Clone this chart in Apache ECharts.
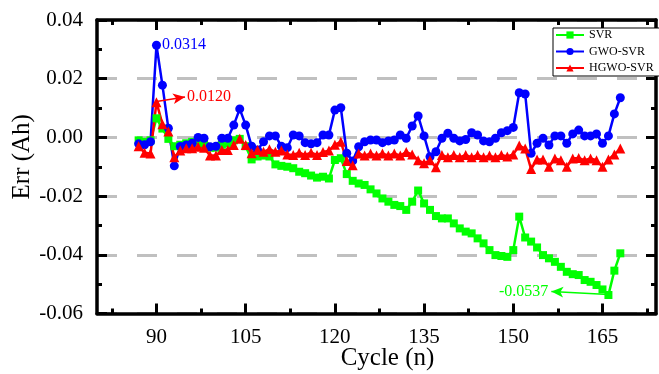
<!DOCTYPE html>
<html><head><meta charset="utf-8">
<script src="https://cdn.jsdelivr.net/npm/echarts@6/dist/echarts.min.js"></script>
<style>html,body{margin:0;padding:0;background:#fff}#c{width:659px;height:374px}</style>
</head><body><div id="c"></div>
<script>
const cycles = [87,88,89,90,91,92,93,94,95,96,97,98,99,100,101,102,103,104,105,106,107,108,109,110,111,112,113,114,115,116,117,118,119,120,121,122,123,124,125,126,127,128,129,130,131,132,133,134,135,136,137,138,139,140,141,142,143,144,145,146,147,148,149,150,151,152,153,154,155,156,157,158,159,160,161,162,163,164,165,166,167,168];
const svr = [-0.0010,-0.0015,-0.0010,0.0065,0.0030,-0.0005,-0.0030,-0.0025,-0.0020,-0.0015,
 -0.0015,-0.0020,-0.0035,-0.0035,-0.0025,-0.0020,-0.0010,-0.0005,-0.0030,-0.0075,
 -0.0065,-0.0062,-0.0065,-0.0092,-0.0097,-0.0100,-0.0105,-0.0117,-0.0122,-0.0130,
 -0.0137,-0.0134,-0.0140,-0.0077,-0.0071,-0.0125,-0.0148,-0.0157,-0.0162,-0.0177,
 -0.0191,-0.0208,-0.0219,-0.0230,-0.0234,-0.0247,-0.0219,-0.0181,-0.0225,-0.0247,
 -0.0268,-0.0276,-0.0276,-0.0293,-0.0310,-0.0321,-0.0327,-0.0344,-0.0361,-0.0384,
 -0.0401,-0.0404,-0.0407,-0.0384,-0.0270,-0.0341,-0.0355,-0.0375,-0.0401,-0.0412,
 -0.0424,-0.0441,-0.0458,-0.0466,-0.0469,-0.0486,-0.0492,-0.0503,-0.0518,-0.0537,
 -0.0454,-0.0395];
const gwoSvr = [-0.0022,-0.0025,-0.0015,0.0314,0.0178,0.0031,-0.0097,-0.0031,-0.0026,-0.0020,
 0.0000,-0.0003,-0.0032,-0.0030,-0.0003,-0.0003,0.0042,0.0097,0.0042,-0.0030,
 -0.0043,-0.0015,0.0005,0.0005,-0.0030,-0.0035,0.0008,0.0005,-0.0018,-0.0022,
 -0.0018,0.0008,0.0008,0.0093,0.0101,-0.0054,-0.0080,-0.0032,-0.0015,-0.0009,
 -0.0009,-0.0018,-0.0012,-0.0009,0.0008,-0.0003,0.0039,0.0073,0.0005,-0.0066,
 -0.0049,-0.0003,0.0014,-0.0003,-0.0012,-0.0007,0.0016,0.0008,-0.0012,-0.0015,
 -0.0003,0.0016,0.0023,0.0034,0.0152,0.0148,-0.0054,-0.0020,-0.0003,-0.0026,
 0.0005,0.0005,-0.0020,0.0012,0.0025,0.0005,0.0005,0.0012,-0.0020,0.0005,
 0.0080,0.0135];
const hgwoSvr = [-0.0030,-0.0052,-0.0055,0.0120,0.0045,0.0020,-0.0068,-0.0045,-0.0037,-0.0037,
 -0.0032,-0.0035,-0.0062,-0.0062,-0.0043,-0.0043,-0.0026,-0.0005,-0.0026,-0.0054,
 -0.0043,-0.0049,-0.0040,-0.0049,-0.0045,-0.0058,-0.0060,-0.0052,-0.0060,-0.0052,
 -0.0060,-0.0050,-0.0045,-0.0025,-0.0015,-0.0080,-0.0095,-0.0055,-0.0062,-0.0055,
 -0.0062,-0.0055,-0.0062,-0.0055,-0.0062,-0.0050,-0.0058,-0.0078,-0.0088,-0.0078,
 -0.0102,-0.0060,-0.0068,-0.0060,-0.0068,-0.0060,-0.0068,-0.0060,-0.0068,-0.0062,
 -0.0068,-0.0060,-0.0065,-0.0058,-0.0028,-0.0038,-0.0108,-0.0075,-0.0075,-0.0100,
 -0.0072,-0.0078,-0.0100,-0.0072,-0.0070,-0.0078,-0.0072,-0.0078,-0.0100,-0.0075,
 -0.0058,-0.0038];
const xTickLabels = [90,105,120,135,150,165];
const xMinorTicks = [82.5,97.5,112.5,127.5,142.5,157.5,172.5];
const seriesNames = ['SVR','GWO-SVR','HGWO-SVR'];

const FONT = "'Liberation Serif','Times New Roman',serif";
const chart = echarts.init(document.getElementById('c'), null, {renderer:'canvas'});

function pairs(vals){ return cycles.map((c,i)=>[c, vals[i]]); }
const gwoData = pairs(gwoSvr).map(p => p[0] === 90 ? {value:p, label:{show:true, position:'right', distance:1, formatter:'0.0314', color:'#0000ff', fontSize:16, fontFamily:FONT}} : p);

const axisLineStyle = {color:'#000', width:3.5};
function xAx(pos, major){
  return {
    type:'value', min:80, max:174, position:pos,
    axisLine:{show:major, onZero:false, lineStyle:axisLineStyle},
    axisTick:{show:true, inside:true, length: major?10:5, customValues: major?xTickLabels:xMinorTicks, lineStyle:{color:'#000', width:3}},
    axisLabel:{show: major && pos==='bottom', customValues:xTickLabels, fontSize:21, color:'#000', margin:13, fontFamily:FONT},
    splitLine:{show:false},
    name: (major && pos==='bottom') ? 'Cycle (n)' : '',
    nameLocation:'middle', nameGap:32, nameMoveOverlap:false,
    nameTextStyle:{fontSize:25, color:'#000', fontFamily:FONT, padding:[0,0,0,22]}
  };
}
function yAx(pos){
  const left = pos==='left';
  return {
    type:'value', min:-0.06, max:0.04, interval:0.02, position:pos,
    axisLine:{show:true, onZero:false, lineStyle:axisLineStyle},
    axisTick:{show:true, inside:true, length:10, lineStyle:{color:'#000', width:3}},
    minorTick:{show:true, splitNumber:2, length:5, lineStyle:{color:'#000', width:3}},
    axisLabel:{show:left, fontSize:21, color:'#000', margin:14, fontFamily:FONT,
      formatter: v => Math.abs(v) < 1e-9 ? '0.00' : v.toFixed(2)},
    splitLine:{show:left, lineStyle:{color:'#c0c0c0', width:3, type:[20,20]}},
    name: left ? 'Err (Ah)' : '', nameLocation:'middle', nameGap:62, nameMoveOverlap:false,
    nameTextStyle:{fontSize:25, color:'#000', fontFamily:FONT, padding:[0,0,0,20]}
  };
}

const option = {
  animation:false,
  backgroundColor:'#fff',
  grid:{left:97, right:3, top:20, bottom:60.5, outerBoundsMode:'none', containLabel:false},
  xAxis:[xAx('bottom',true), xAx('bottom',false), xAx('top',true), xAx('top',false)],
  yAxis:[yAx('left'), yAx('right')],
  legend:{
    data:seriesNames, left:553, top:28, orient:'vertical',
    padding:[0,6,1,2], itemGap:2.5, itemWidth:28, itemHeight:9,
    borderColor:'#000', borderWidth:1, backgroundColor:'#fff',
    textStyle:{fontSize:12, color:'#000', fontFamily:FONT, lineHeight:14}
  },
  series:[
    {name:seriesNames[0], type:'line', data:pairs(svr), symbol:'rect', symbolSize:8, showAllSymbol:true,
     lineStyle:{color:'#00ff00', width:2.5}, itemStyle:{color:'#00ff00'}, emphasis:{disabled:true},
     markLine:{silent:true, symbol:['none','arrow'], symbolSize:[8,12], animation:false,
       lineStyle:{color:'#00ff00', width:1.5, type:'solid'},
       label:{show:true, position:'end', formatter:'-0.0537', color:'#00ff00', fontSize:16, fontFamily:FONT, distance:3},
       data:[[{coord:[166,-0.0535]},{coord:[156.4,-0.0525]}]]}},
    {name:seriesNames[1], type:'line', data:gwoData, symbol:'circle', symbolSize:9, showAllSymbol:true,
     lineStyle:{color:'#0000ff', width:2.5}, itemStyle:{color:'#0000ff'}, emphasis:{disabled:true}},
    {name:seriesNames[2], type:'line', data:pairs(hgwoSvr), symbol:'triangle', symbolSize:10, showAllSymbol:true,
     lineStyle:{color:'#ff0000', width:2.5}, itemStyle:{color:'#ff0000'}, emphasis:{disabled:true},
     markLine:{silent:true, symbol:['none','arrow'], symbolSize:[8,12], animation:false,
       lineStyle:{color:'#ff0000', width:1.5, type:'solid'},
       label:{show:true, position:'end', formatter:'0.0120', color:'#ff0000', fontSize:16, fontFamily:FONT, distance:2},
       data:[[{coord:[90,0.0122]},{coord:[94.8,0.0138]}]]}}
  ]
};
chart.setOption(option);
</script></body></html>
